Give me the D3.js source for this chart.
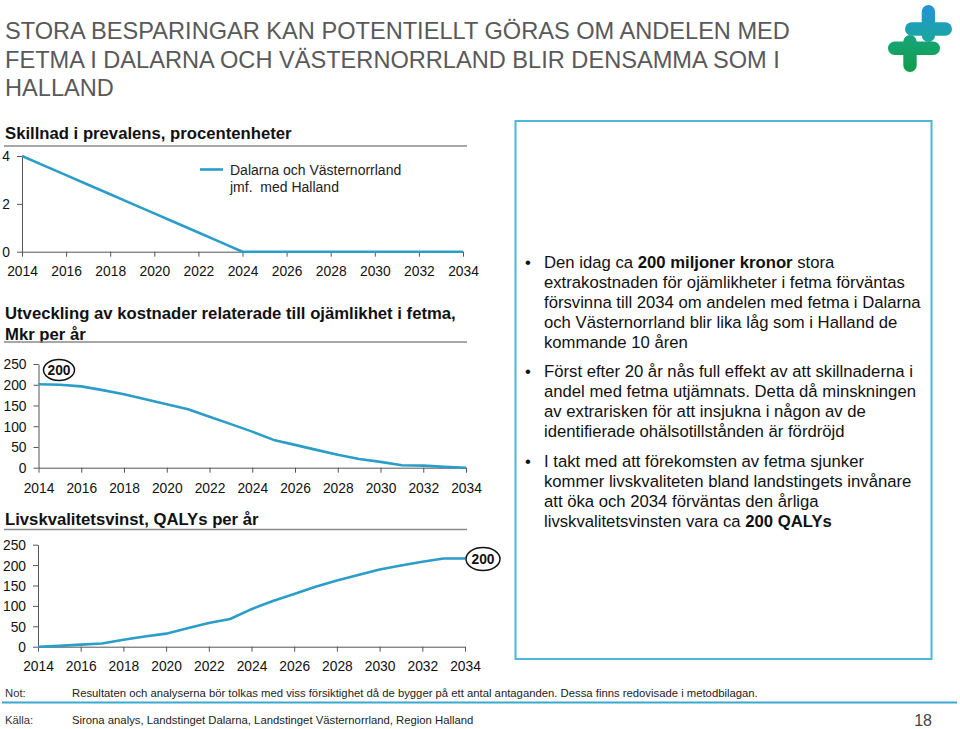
<!DOCTYPE html>
<html><head><meta charset="utf-8">
<script src="https://cdn.jsdelivr.net/npm/d3@7"></script>
<style>
html,body{margin:0;padding:0;background:#fff;}
svg{display:block;font-family:"Liberation Sans",Arial,sans-serif;}
</style></head>
<body>
<script>
// ---------- DATA ----------
const years = d3.range(2014, 2035);
const xTickYears = [2014,2016,2018,2020,2022,2024,2026,2028,2030,2032,2034];
const prevalenceDiff = [4,3.6,3.2,2.8,2.4,2.0,1.6,1.2,0.8,0.4,0,0,0,0,0,0,0,0,0,0,0];
const costMkr = [201,200,196,187,177,165,153,141,123,105,87,67,55,43,31,21,14,6,5,2,0];
const qalys = [0,2,5,8,17,25,32,45,58,68,92,112,129,147,162,176,189,199,208,216,216];
const prevTicks = [0,2,4];
const valTicks = [0,50,100,150,200,250];
const titleLines = ["STORA BESPARINGAR KAN POTENTIELLT GÖRAS OM ANDELEN MED","FETMA I DALARNA OCH VÄSTERNORRLAND BLIR DENSAMMA SOM I","HALLAND"];
const legendLines = ["Dalarna och Västernorrland","jmf.  med Halland"];
const costLabel = "200", qalyLabel = "200";

const W = 960, H = 729;
const LINE = "#2a9dc8", AXIS = "#555";
const svg = d3.select("body").append("svg").attr("width", W).attr("height", H);

// ---------- TITLE ----------
svg.append("g").selectAll("text").data(titleLines).join("text")
  .attr("x", 5).attr("y", (d,i)=>39 + i*28.5)
  .attr("font-size", 23.6).attr("fill", "#595959").text(d=>d);

// ---------- LOGO ----------
const defs = svg.append("defs");
const g1 = defs.append("linearGradient").attr("id","lg1").attr("gradientUnits","userSpaceOnUse")
  .attr("x1",0).attr("y1",5).attr("x2",0).attr("y2",42);
g1.append("stop").attr("offset","0%").attr("stop-color","#2294d8");
g1.append("stop").attr("offset","100%").attr("stop-color","#19a89a");
const g2 = defs.append("linearGradient").attr("id","lg2").attr("gradientUnits","userSpaceOnUse")
  .attr("x1",0).attr("y1",35).attr("x2",0).attr("y2",72);
g2.append("stop").attr("offset","0%").attr("stop-color","#17a47e");
g2.append("stop").attr("offset","100%").attr("stop-color","#0f9e47");
function crossShape(hx0, hx1, hy, vx, vy0, vy1, t, fill){
  const g = svg.append("g").attr("fill", fill);
  g.append("rect").attr("x", hx0).attr("y", hy - t/2).attr("width", hx1 - hx0).attr("height", t).attr("rx", t/2);
  g.append("rect").attr("x", vx - t/2).attr("y", vy0).attr("width", t).attr("height", vy1 - vy0).attr("rx", t/2);
}
crossShape(888, 940, 48.3, 910, 35, 72, 13.4, "url(#lg2)");
crossShape(905, 952, 29, 928.4, 5, 42, 13.4, "url(#lg1)");

// ---------- helpers ----------
function header(lines, y0, lineY){
  svg.append("g").selectAll("text").data(lines).join("text")
    .attr("x", 5).attr("y", (d,i)=>y0 + i*20.5)
    .attr("font-size", 16.7).attr("font-weight", "bold").attr("fill", "#111").text(d=>d);
  svg.append("line").attr("x1", 4).attr("x2", 467).attr("y1", lineY).attr("y2", lineY)
    .attr("stroke", "#8a8a8a").attr("stroke-width", 1.5);
}
function chart(x0, x1, yTop, yBot, dom, yticks, values, labelY){
  const x = d3.scaleLinear().domain([2014, 2034]).range([x0, x1]);
  const y = d3.scaleLinear().domain(dom).range([yBot, yTop]);
  const gx = svg.append("g").attr("transform", `translate(0,${yBot})`)
    .call(d3.axisBottom(x).tickValues(xTickYears).tickFormat(d3.format("d")).tickSize(5).tickSizeOuter(0));
  const gy = svg.append("g").attr("transform", `translate(${x0},0)`)
    .call(d3.axisLeft(y).tickValues(yticks).tickFormat(d3.format("d")).tickSize(5).tickSizeOuter(0).tickPadding(7));
  [gx, gy].forEach(g=>{
    g.select(".domain").attr("stroke", AXIS);
    g.selectAll(".tick line").attr("stroke", AXIS);
    g.selectAll("text").attr("font-size", 13.8).attr("fill", "#111").attr("font-family", "Liberation Sans,Arial,sans-serif");
  });
  gx.selectAll("text").attr("dy", null).attr("y", labelY - yBot);
  gy.selectAll("text").attr("dy", "0.36em");
  svg.append("path").datum(values)
    .attr("fill", "none").attr("stroke", LINE).attr("stroke-width", 2.6).attr("stroke-linejoin", "round")
    .attr("d", d3.line().x((d,i)=>x(years[i])).y(d=>y(d)));
  return {x, y};
}
function bubble(cx, cy, rx, ry, txt){
  svg.append("ellipse").attr("cx", cx).attr("cy", cy).attr("rx", rx).attr("ry", ry)
    .attr("fill", "#fff").attr("stroke", "#111").attr("stroke-width", 1.5);
  svg.append("text").attr("x", cx).attr("y", cy).attr("dy", "0.36em").attr("text-anchor", "middle")
    .attr("font-size", 13.8).attr("font-weight", "bold").attr("fill", "#111").text(txt);
}

// ---------- CHART 1 ----------
header(["Skillnad i prevalens, procentenheter"], 139, 146);
const c1 = chart(22, 463, 156, 251.7, [0,4], prevTicks, prevalenceDiff, 276.5);
svg.append("line").attr("x1", 200).attr("x2", 223).attr("y1", 169.5).attr("y2", 169.5)
  .attr("stroke", LINE).attr("stroke-width", 2.6);
svg.append("g").selectAll("text").data(legendLines).join("text")
  .attr("x", 230).attr("y", (d,i)=>175 + i*16.5).attr("font-size", 14).attr("fill", "#222")
  .style("white-space", "pre").text(d=>d);

// ---------- CHART 2 ----------
header(["Utveckling av kostnader relaterade till ojämlikhet i fetma,","Mkr per år"], 319, 342);
const c2 = chart(38.5, 466, 364, 467.7, [0,250], valTicks, costMkr, 493);
bubble(59, 370, 15.5, 10.5, costLabel);

// ---------- CHART 3 ----------
header(["Livskvalitetsvinst, QALYs per år"], 524.5, 529.5);
const c3 = chart(38, 465, 544.7, 646.7, [0,250], valTicks, qalys, 671);
bubble(483, 559, 17, 11.5, qalyLabel);

// ---------- TEXT BOX ----------
svg.append("rect").attr("x", 515.5).attr("y", 121).attr("width", 416).attr("height", 538)
  .attr("fill", "none").attr("stroke", "#4db6d9").attr("stroke-width", 2);
const bullets = [
  {y: 268, lines: [[["Den idag ca ",0],["200 miljoner kronor",1],[" stora",0]],
                   [["extrakostnaden för ojämlikheter i fetma förväntas",0]],
                   [["försvinna till 2034 om andelen med fetma i Dalarna",0]],
                   [["och Västernorrland blir lika låg som i Halland de",0]],
                   [["kommande 10 åren",0]]]},
  {y: 377, lines: [[["Först efter 20 år nås full effekt av att skillnaderna i",0]],
                   [["andel med fetma utjämnats. Detta då minskningen",0]],
                   [["av extrarisken för att insjukna i någon av de",0]],
                   [["identifierade ohälsotillstånden är fördröjd",0]]]},
  {y: 467, lines: [[["I takt med att förekomsten av fetma sjunker",0]],
                   [["kommer livskvaliteten bland landstingets invånare",0]],
                   [["att öka och 2034 förväntas den årliga",0]],
                   [["livskvalitetsvinsten vara ca ",0],["200 QALYs",1]]]}
];
bullets.forEach(b=>{
  svg.append("text").attr("x", 525).attr("y", b.y).attr("font-size", 16.7).attr("fill","#111").text("•");
  b.lines.forEach((ln,i)=>{
    const t = svg.append("text").attr("x", 544).attr("y", b.y + i*20).attr("font-size", 16.7).attr("fill","#111");
    ln.forEach(seg=>t.append("tspan").attr("font-weight", seg[1] ? "bold" : "normal").text(seg[0]));
  });
});

// ---------- FOOTER ----------
const footFont = "'Liberation Sans Narrow','Arial Narrow',Arial,sans-serif";
svg.append("text").attr("x", 5).attr("y", 697).attr("font-size", 11.3).attr("font-family", footFont).attr("fill","#333").text("Not:");
svg.append("text").attr("x", 72).attr("y", 697).attr("font-size", 11.3).attr("font-family", footFont).attr("fill","#222")
  .text("Resultaten och analyserna bör tolkas med viss försiktighet då de bygger på ett antal antaganden. Dessa finns redovisade i metodbilagan.");
svg.append("line").attr("x1", 2).attr("x2", 957).attr("y1", 702.5).attr("y2", 702.5).attr("stroke", "#3aa9cf").attr("stroke-width", 2);
svg.append("text").attr("x", 5).attr("y", 724).attr("font-size", 11.3).attr("font-family", footFont).attr("fill","#333").text("Källa:");
svg.append("text").attr("x", 72).attr("y", 724).attr("font-size", 11.3).attr("font-family", footFont).attr("fill","#222")
  .text("Sirona analys, Landstinget Dalarna, Landstinget Västernorrland, Region Halland");
svg.append("text").attr("x", 932).attr("y", 726).attr("text-anchor","end").attr("font-size", 16).attr("font-family", footFont).attr("fill","#444").text("18");
</script>
</body></html>
